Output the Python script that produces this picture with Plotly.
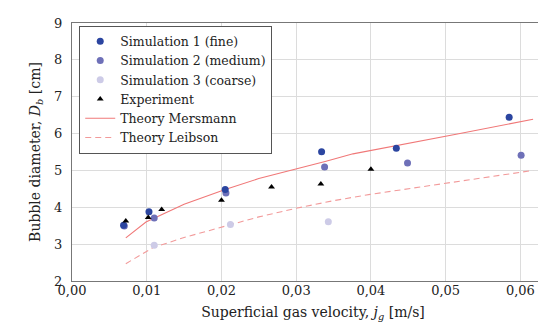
import plotly.graph_objects as go

sim1_x = [0.0069, 0.0103, 0.0205, 0.0334, 0.0434, 0.0585]
sim1_y = [3.51, 3.88, 4.48, 5.51, 5.60, 6.44]

sim2_x = [0.0070, 0.0110, 0.0206, 0.0338, 0.0449, 0.0601]
sim2_y = [3.49, 3.71, 4.39, 5.09, 5.20, 5.41]

sim3_x = [0.0110, 0.0212, 0.0343]
sim3_y = [2.97, 3.53, 3.61]

exp_x = [0.0072, 0.0102, 0.0120, 0.0200, 0.0267, 0.0333, 0.0400]
exp_y = [3.63, 3.72, 3.94, 4.19, 4.55, 4.63, 5.03]

mers_x = [0.0072, 0.0099, 0.0150, 0.0205, 0.0250, 0.0297, 0.0340, 0.0376, 0.0434, 0.0514, 0.0617]
mers_y = [3.17, 3.60, 4.08, 4.48, 4.78, 5.02, 5.25, 5.45, 5.67, 5.98, 6.39]

leib_x = [0.0072, 0.0108, 0.0150, 0.0205, 0.0250, 0.0297, 0.0350, 0.0399, 0.0450, 0.0514, 0.0617]
leib_y = [2.47, 2.90, 3.18, 3.48, 3.74, 3.96, 4.18, 4.35, 4.50, 4.68, 5.00]

x_ticks = [0.00, 0.01, 0.02, 0.03, 0.04, 0.05, 0.06]
y_ticks = [2, 3, 4, 5, 6, 7, 8, 9]

FONT = "DejaVu Serif"

fig = go.Figure()
fig.add_trace(go.Scatter(x=mers_x, y=mers_y, mode="lines", name="Theory Mersmann", legendrank=5,
                         line=dict(color="#f07878", width=1.1)))
fig.add_trace(go.Scatter(x=leib_x, y=leib_y, mode="lines", name="Theory Leibson", legendrank=6,
                         line=dict(color="#f29a9a", width=1.1, dash="6px,4px")))
fig.add_trace(go.Scatter(x=sim3_x, y=sim3_y, mode="markers", name="Simulation 3 (coarse)", legendrank=3,
                         marker=dict(color="#cdcbe7", size=7)))
fig.add_trace(go.Scatter(x=sim2_x, y=sim2_y, mode="markers", name="Simulation 2 (medium)", legendrank=2,
                         marker=dict(color="#6e70b8", size=7)))
fig.add_trace(go.Scatter(x=sim1_x, y=sim1_y, mode="markers", name="Simulation 1 (fine)", legendrank=1,
                         marker=dict(color="#2b45a0", size=7)))
fig.add_trace(go.Scatter(x=exp_x, y=exp_y, mode="markers", name="Experiment", legendrank=4,
                         marker=dict(color="black", size=6, symbol="triangle-up")))

fig.update_layout(
    width=546, height=328,
    margin=dict(l=64, r=0, t=15, b=55),
    paper_bgcolor="white", plot_bgcolor="white",
    separators=",.",
    font=dict(family=FONT, size=14, color="#222222"),
    showlegend=True,
    legend=dict(x=0.015, y=0.99, xanchor="left", yanchor="top",
                bgcolor="white", bordercolor="#555555", borderwidth=1,
                font=dict(family=FONT, size=12.5, color="#222222"),
                tracegroupgap=0, itemwidth=30, traceorder="normal"),
)
fig.update_xaxes(range=[0, 0.0645], tickvals=x_ticks, tickformat=".2f",
                 showgrid=True, gridcolor="#dcdcdc", gridwidth=1,
                 showline=True, linecolor="#777777", linewidth=1, mirror=True,
                 zeroline=False, ticks="", ticklen=0, ticklabelstandoff=-3,
                 title=dict(text="Superficial gas velocity, <i>j<sub>g</sub></i> [m/s]", standoff=10,
                            font=dict(family=FONT, size=14)),
                 tickfont=dict(family=FONT, size=13))
fig.update_yaxes(range=[2, 9], tickvals=y_ticks,
                 showgrid=True, gridcolor="#dcdcdc", gridwidth=1,
                 showline=True, linecolor="#777777", linewidth=1, mirror=True,
                 zeroline=False, ticks="", ticklen=0, ticklabelstandoff=6,
                 title=dict(text="Bubble diameter, <i>D<sub>b</sub></i> [cm]", standoff=10,
                            font=dict(family=FONT, size=14)),
                 tickfont=dict(family=FONT, size=13))

fig.write_html("out.html")
